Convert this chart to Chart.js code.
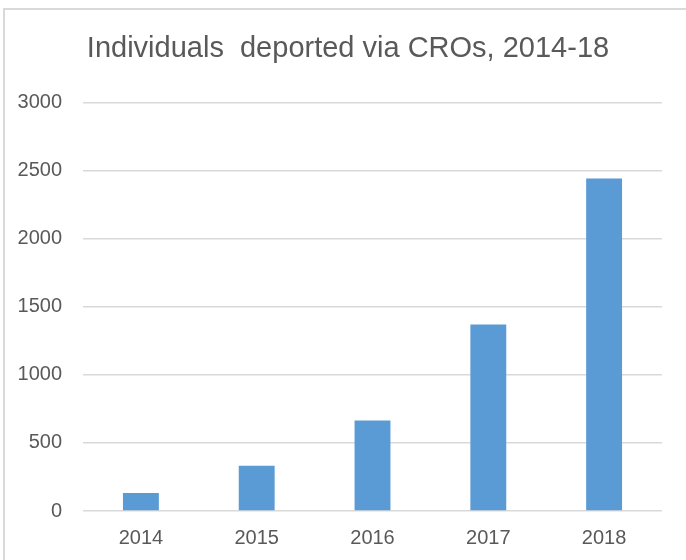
<!DOCTYPE html>
<html>
<head>
<meta charset="utf-8">
<script src="https://cdn.jsdelivr.net/npm/chart.js@4"></script>
<style>
  html, body { margin: 0; padding: 0; background: #fff; }
  #wrap { position: relative; width: 686px; height: 560px; overflow: hidden; }
  #frame { position: absolute; left: 3px; top: 8px; width: 800px; height: 700px;
           border-left: 2px solid #d9d9d9; border-top: 2px solid #d9d9d9; }
  canvas { position: absolute; left: 0; top: 0; }
</style>
</head>
<body>
<div id="wrap">
  <div id="frame"></div>
  <canvas id="myChart" width="686" height="560"></canvas>
</div>
<script>
const years = ['2014', '2015', '2016', '2017', '2018']
const deported = [133, 333, 665, 1370, 2443]
const yTicks = [0, 500, 1000, 1500, 2000, 2500, 3000]

const fontFamily = "'Liberation Sans', Arial, sans-serif"
const grey = '#595959'

// the original title sits a bit right of the plot centre
const shiftTitle = {
  id: 'shiftTitle',
  afterLayout: (chart) => {
    const t = chart.titleBlock
    if (t) {
      t.left = 34
      t.width = t.right - t.left
    }
  }
}

const ctx = document.getElementById('myChart')
const chart = new Chart(ctx, {
  type: 'bar',
  data: {
    labels: years,
    datasets: [{
      label: 'Individuals deported',
      data: deported,
      backgroundColor: '#5B9BD5',
      borderWidth: 0,
      barPercentage: 0.31,
      categoryPercentage: 1
    }]
  },
  options: {
    responsive: false,
    animation: false,
    layout: { padding: { left: 0, right: 24, top: 0, bottom: 0 } },
    scales: {
      y: {
        min: 0,
        max: 3000,
        afterBuildTicks: (scale) => { scale.ticks = yTicks.map(v => ({ value: v })) },
        afterFit: (scale) => { scale.width = 83 },
        grid: { color: '#d9d9d9', lineWidth: 1.5, drawTicks: false },
        border: { display: false },
        ticks: {
          color: grey, padding: 21,
          font: { family: fontFamily, size: 20 },
          callback: (v) => String(v)
        }
      },
      x: {
        afterFit: (scale) => { scale.height = 49 },
        grid: { display: false },
        border: { display: false },
        ticks: { color: grey, padding: 7, font: { family: fontFamily, size: 20 } }
      }
    },
    plugins: {
      legend: { display: false },
      tooltip: { enabled: false },
      title: {
        display: true,
        text: 'Individuals  deported via CROs, 2014-18',
        color: grey,
        font: { family: fontFamily, size: 29, weight: 'normal', lineHeight: 1.2 },
        padding: { top: 31.6, bottom: 36.3 }
      }
    }
  },
  plugins: [shiftTitle]
})
</script>
</body>
</html>
